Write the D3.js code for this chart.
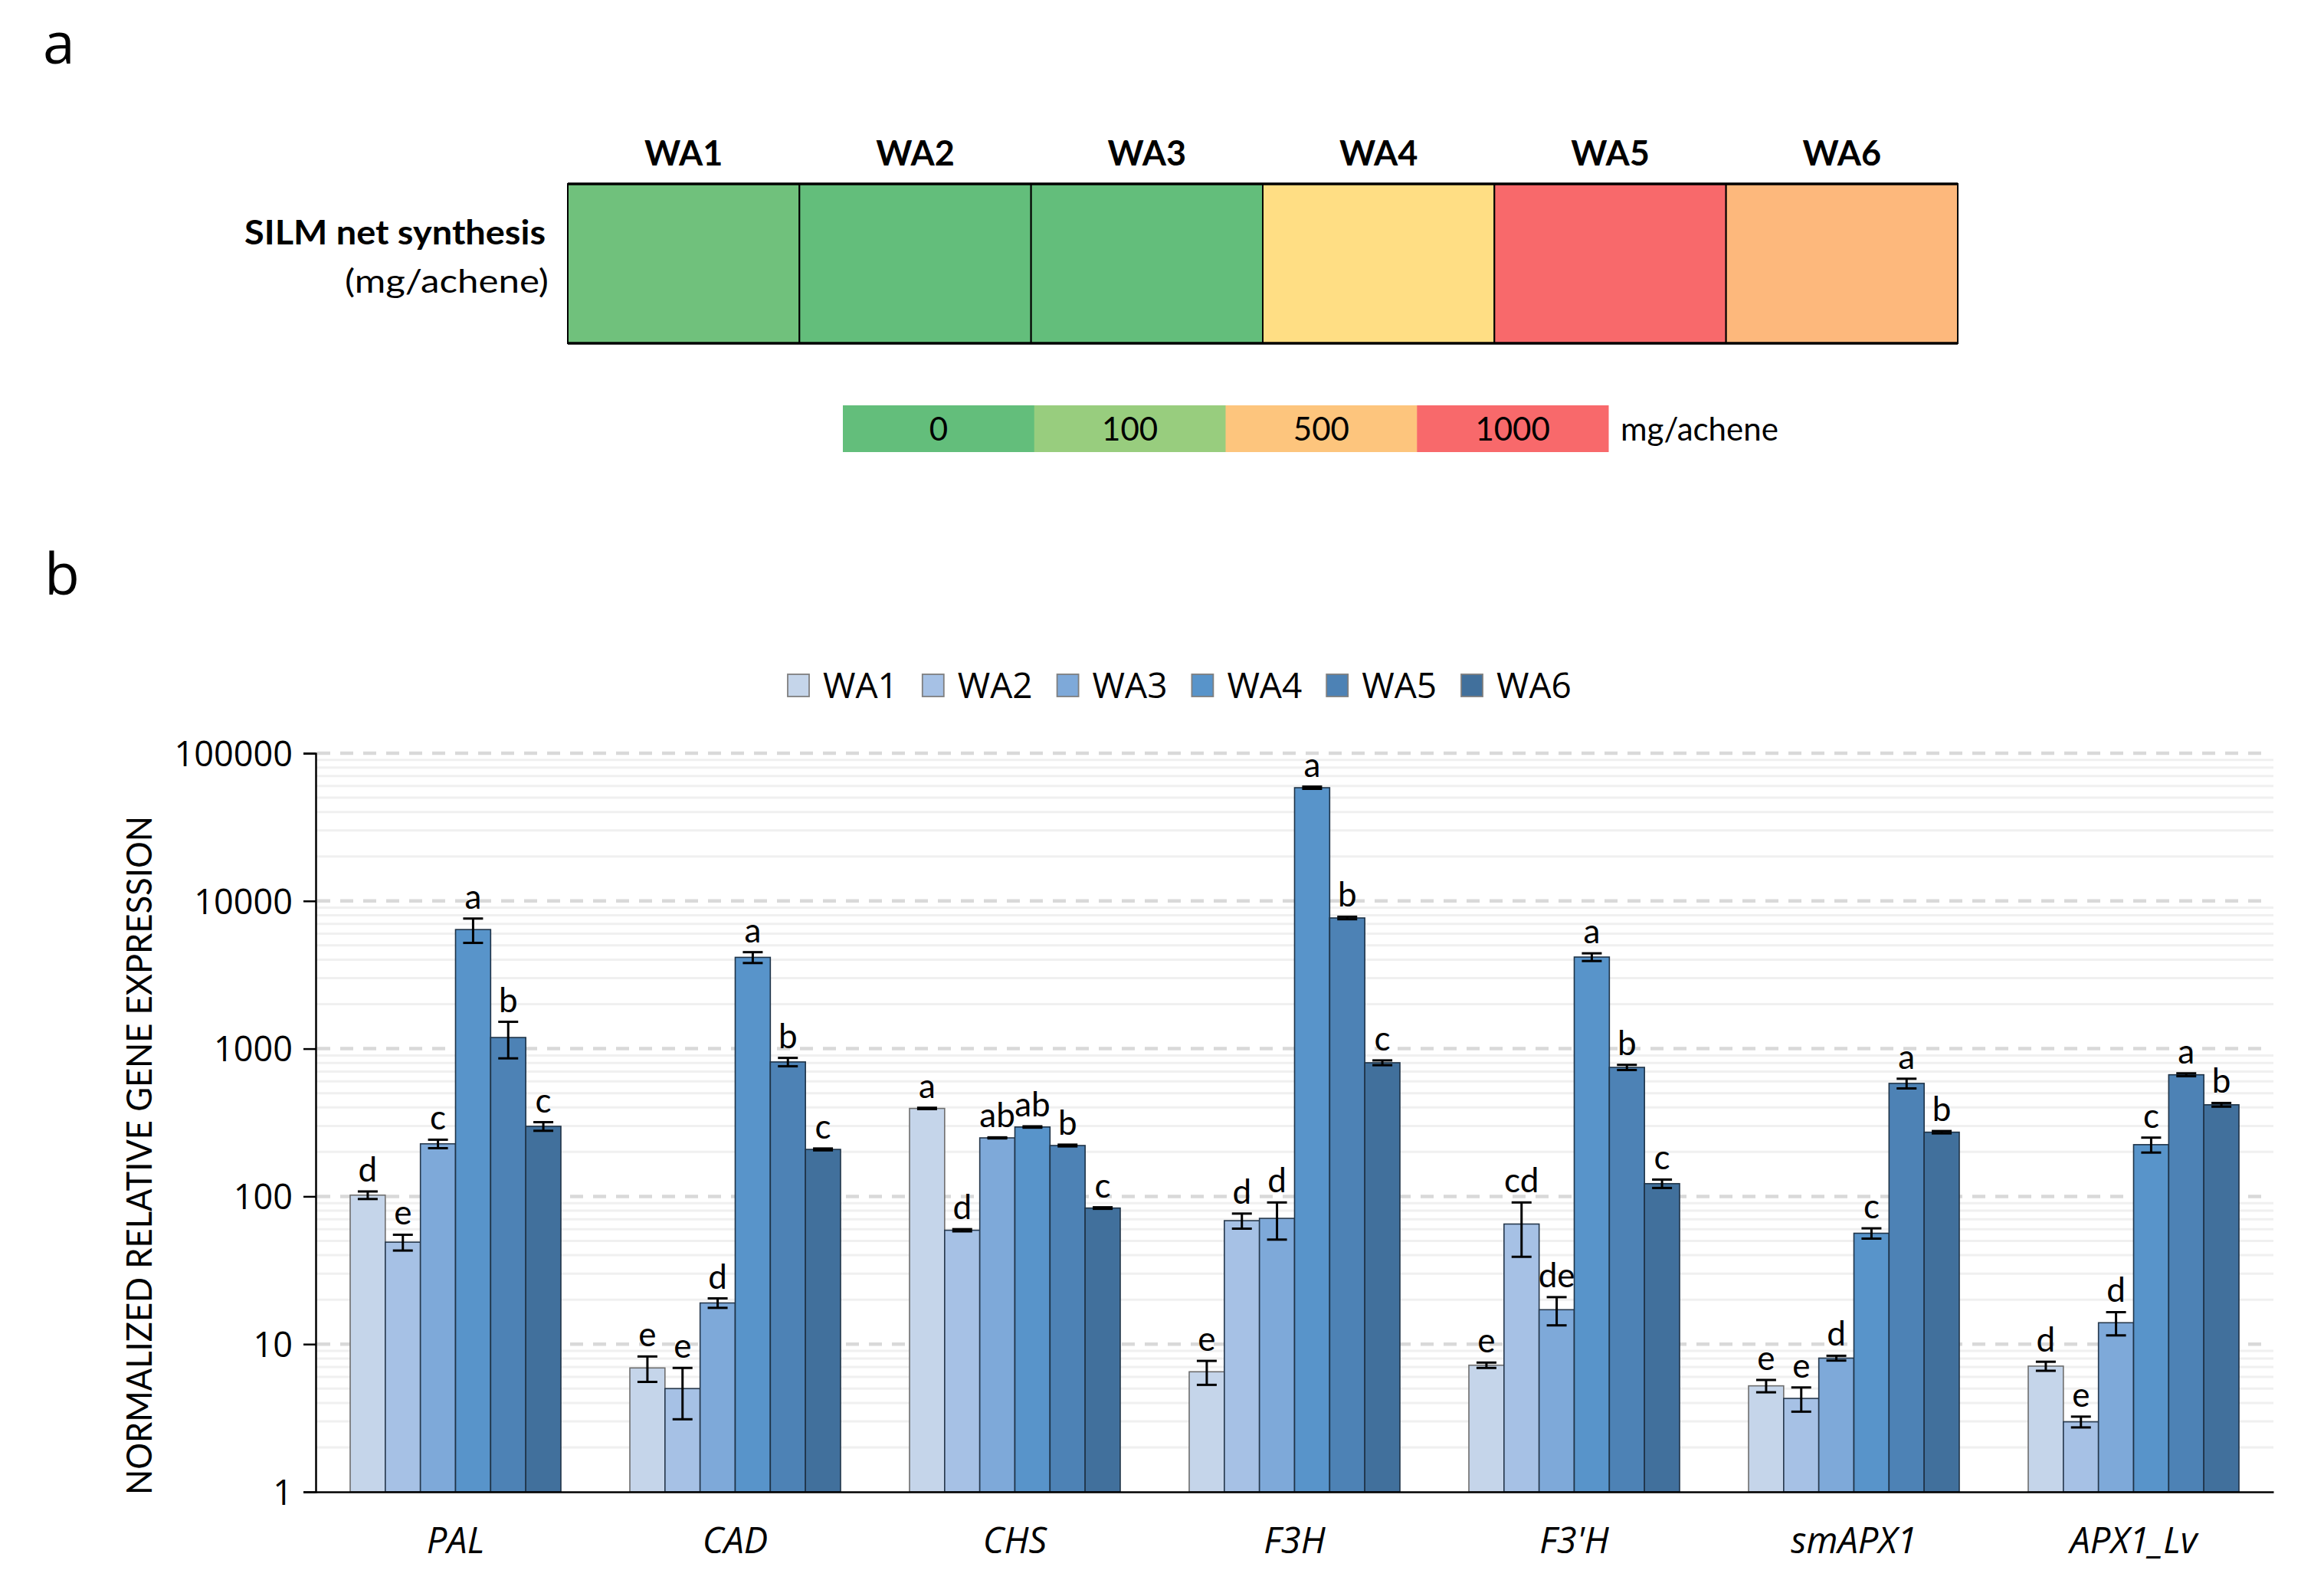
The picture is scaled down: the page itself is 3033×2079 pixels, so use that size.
<!DOCTYPE html>
<html>
<head>
<meta charset="utf-8">
<script src="https://cdn.jsdelivr.net/npm/d3@7"></script>
<style>
  html, body { margin: 0; padding: 0; background: #fff; }
  svg { display: block; }
</style>
</head>
<body>
<svg id="chart" width="3033" height="2079"></svg>
<script>
// ---------------- DATA ----------------
const samples = ["WA1", "WA2", "WA3", "WA4", "WA5", "WA6"];
const silmColors = ["#70C17C", "#63BE7B", "#63BE7B", "#FFDE84", "#F8696B", "#FDB87C"];
const scaleLabels = ["0", "100", "500", "1000"];
const scaleColors = ["#63BE7B", "#98CD7E", "#FDC57D", "#F8696B"];

const genes = ["PAL", "CAD", "CHS", "F3H", "F3'H", "smAPX1", "APX1_Lv"];
const WA1 = [102, 6.9, 394, 6.5, 7.2, 5.22, 7.1];
const WA2 = [49, 5.0, 59, 68.5, 65, 4.29, 2.98];
const WA3 = [227, 19.0, 249, 71, 17.1, 8.04, 13.96];
const WA4 = [6400, 4150, 295, 58400, 4170, 56.3, 224];
const WA5 = [1190, 813, 221, 7670, 747, 582, 666];
const WA6 = [298, 208, 83.4, 803, 122, 272, 417];
const WA1_err = [6, 1.35, 4, 1.2, 0.3, 0.5, 0.5];
const WA2_err = [6, 1.9, 1, 8, 26, 0.8, 0.25];
const WA3_err = [15, 1.4, 2, 20, 3.7, 0.3, 2.5];
const WA4_err = [1200, 350, 3, 1000, 250, 4.5, 26];
const WA5_err = [330, 53, 3, 150, 30, 44, 15];
const WA6_err = [20, 3, 1, 30, 8, 5, 12];
const WA1_letters = ["d", "e", "a", "e", "e", "e", "d"];
const WA2_letters = ["e", "e", "d", "d", "cd", "e", "e"];
const WA3_letters = ["c", "d", "ab", "d", "de", "d", "d"];
const WA4_letters = ["a", "a", "ab", "a", "a", "c", "c"];
const WA5_letters = ["b", "b", "b", "b", "b", "a", "a"];
const WA6_letters = ["c", "c", "c", "c", "c", "b", "b"];
const yTicks = [1, 10, 100, 1000, 10000, 100000];
const barColors = ["#C5D5EA", "#A6C1E5", "#7EA9D9", "#5894CA", "#4D82B5", "#41709C"];
const barStrokes = ["#6E6E6E", "#26384C", "#26384C", "#1E3347", "#1E3347", "#1E3347"];

(function () {
const values = [WA1, WA2, WA3, WA4, WA5, WA6];
const errs = [WA1_err, WA2_err, WA3_err, WA4_err, WA5_err, WA6_err];
const letters = [WA1_letters, WA2_letters, WA3_letters, WA4_letters, WA5_letters, WA6_letters];

const records = [];
genes.forEach((g, gi) => samples.forEach((s, si) => {
  records.push({gene: g, sample: s, si, v: values[si][gi], e: errs[si][gi], l: letters[si][gi]});
}));

const svg = d3.select("#chart");
svg.append("rect").attr("width", 3033).attr("height", 2079).attr("fill", "#fff");

const calib = "Lato, 'Liberation Sans', sans-serif";
const segoe = "'Open Sans', 'Noto Sans', sans-serif";

// ---------------- PANEL LABELS ----------------
svg.append("text").attr("x", 56).attr("y", 83).text("a")
  .attr("font-family", segoe).attr("font-size", 75).attr("fill", "#000");
svg.append("text").attr("x", 58).attr("y", 776).text("b")
  .attr("font-family", segoe).attr("font-size", 75).attr("fill", "#000");

// ---------------- PANEL A ----------------
const xa = d3.scaleBand().domain(samples).range([741, 2555]);
const ga = svg.append("g");
ga.selectAll("rect.cell").data(samples).join("rect").attr("class", "cell")
  .attr("x", d => xa(d)).attr("y", 240).attr("width", xa.bandwidth()).attr("height", 208)
  .attr("fill", (d, i) => silmColors[i]).attr("stroke", "#000").attr("stroke-width", 2);
ga.append("line").attr("x1", 741).attr("x2", 2555).attr("y1", 240).attr("y2", 240)
  .attr("stroke", "#000").attr("stroke-width", 3.5);
ga.append("line").attr("x1", 741).attr("x2", 2555).attr("y1", 448).attr("y2", 448)
  .attr("stroke", "#000").attr("stroke-width", 3.5);
ga.selectAll("text.hdr").data(samples).join("text").attr("class", "hdr")
  .attr("x", d => xa(d) + xa.bandwidth() / 2).attr("y", 216)
  .attr("text-anchor", "middle").attr("font-family", calib).attr("font-weight", 700)
  .attr("font-size", 45).text(d => d);
ga.append("text").attr("x", 712).attr("y", 319).attr("text-anchor", "end")
  .attr("font-family", calib).attr("font-weight", 700).attr("font-size", 43)
  .attr("textLength", 393).attr("lengthAdjust", "spacingAndGlyphs")
  .text("SILM net synthesis");
ga.append("text").attr("x", 716).attr("y", 382).attr("text-anchor", "end")
  .attr("font-family", calib).attr("font-size", 43)
  .attr("textLength", 266).attr("lengthAdjust", "spacingAndGlyphs")
  .text("(mg/achene)");

const xs = d3.scaleBand().domain(scaleLabels).range([1100, 2099]);
ga.selectAll("rect.sc").data(scaleLabels).join("rect").attr("class", "sc")
  .attr("x", d => xs(d)).attr("y", 529).attr("width", xs.bandwidth() + 0.5).attr("height", 61)
  .attr("fill", (d, i) => scaleColors[i]);
ga.selectAll("text.sc").data(scaleLabels).join("text").attr("class", "sc")
  .attr("x", d => xs(d) + xs.bandwidth() / 2).attr("y", 575).attr("text-anchor", "middle")
  .attr("font-family", calib).attr("font-size", 42).text(d => d);
ga.append("text").attr("x", 2115).attr("y", 575).attr("font-family", calib)
  .attr("font-size", 42).text("mg/achene");

// ---------------- PANEL B ----------------
const pLeft = 412, pRight = 2967, pTop = 983, pBottom = 1947;
const x = d3.scaleBand().domain(genes).range([pLeft, pRight]);
const xi = d3.scaleBand().domain(samples).range([45, x.bandwidth() - 45]);
const y = d3.scaleLog().domain([1, 100000]).range([pBottom, pTop]);

const gb = svg.append("g");
// minor gridlines
const minor = [];
for (let p = 0; p < 5; p++) for (let m = 2; m <= 9; m++) minor.push(m * Math.pow(10, p));
gb.selectAll("line.minor").data(minor).join("line").attr("class", "minor")
  .attr("x1", pLeft).attr("x2", pRight).attr("y1", d => y(d)).attr("y2", d => y(d))
  .attr("stroke", "#F0F0F0").attr("stroke-width", 3);
// major gridlines (dashed)
gb.selectAll("line.major").data(yTicks.slice(1)).join("line").attr("class", "major")
  .attr("x1", pLeft + 2).attr("x2", pRight - 12).attr("y1", d => y(d)).attr("y2", d => y(d))
  .attr("stroke", "#D9D9D9").attr("stroke-width", 4.5).attr("stroke-dasharray", "17,13");

// bars
const groups = gb.selectAll("g.gene").data(genes).join("g").attr("class", "gene")
  .attr("transform", d => `translate(${x(d)},0)`);
groups.selectAll("rect").data(g => records.filter(r => r.gene === g)).join("rect")
  .attr("x", d => xi(d.sample)).attr("width", xi.bandwidth())
  .attr("y", d => y(d.v)).attr("height", d => y(1) - y(d.v))
  .attr("fill", d => barColors[d.si]).attr("stroke", d => barStrokes[d.si]).attr("stroke-width", 1.6);

// error bars
const cap = 13;
const eb = groups.selectAll("g.err").data(g => records.filter(r => r.gene === g)).join("g").attr("class", "err")
  .attr("transform", d => `translate(${xi(d.sample) + xi.bandwidth() / 2},0)`);
eb.append("line").attr("x1", 0).attr("x2", 0).attr("y1", d => y(d.v + d.e)).attr("y2", d => y(d.v - d.e))
  .attr("stroke", "#000").attr("stroke-width", 3);
eb.append("line").attr("x1", -cap).attr("x2", cap).attr("y1", d => y(d.v + d.e)).attr("y2", d => y(d.v + d.e))
  .attr("stroke", "#000").attr("stroke-width", 3);
eb.append("line").attr("x1", -cap).attr("x2", cap).attr("y1", d => y(d.v - d.e)).attr("y2", d => y(d.v - d.e))
  .attr("stroke", "#000").attr("stroke-width", 3);
eb.append("text").attr("x", 0).attr("y", d => y(d.v + d.e) - 13).attr("text-anchor", "middle")
  .attr("font-family", calib).attr("font-size", 44).attr("fill", "#000").text(d => d.l);

// y axis
const yAxis = d3.axisLeft(y).tickValues(yTicks).tickFormat(d3.format("d")).tickSize(16).tickPadding(14);
const ya = svg.append("g").attr("transform", `translate(${pLeft},0)`).call(yAxis);
ya.select(".domain").attr("stroke", "#000").attr("stroke-width", 2.5);
ya.selectAll(".tick line").attr("stroke", "#000").attr("stroke-width", 2.5);
ya.selectAll(".tick text").attr("font-family", segoe).attr("font-size", 45).attr("fill", "#000").attr("dy", "0.36em");

// x axis
const xAxis = d3.axisBottom(x).tickSize(0).tickPadding(0);
const xaG = svg.append("g").attr("transform", `translate(0,${pBottom})`).call(xAxis);
xaG.select(".domain").attr("stroke", "#000").attr("stroke-width", 2.5);
xaG.selectAll(".tick text").attr("y", 80).attr("dy", 0).attr("font-family", segoe)
  .attr("font-style", "italic").attr("font-size", 47).attr("fill", "#000");

// y title
svg.append("text").attr("transform", `translate(198,${(1065 + 1951) / 2}) rotate(-90)`)
  .attr("text-anchor", "middle").attr("font-family", calib).attr("font-size", 47)
  .attr("textLength", 886).attr("lengthAdjust", "spacingAndGlyphs")
  .text("NORMALIZED RELATIVE GENE EXPRESSION");

// legend
const legX = d3.scaleBand().domain(samples).range([1028, 1028 + 175.8 * 6]);
const lg = svg.append("g");
lg.selectAll("rect").data(samples).join("rect")
  .attr("x", d => legX(d)).attr("y", 880).attr("width", 28).attr("height", 29)
  .attr("fill", (d, i) => barColors[i]).attr("stroke", "#7F7F7F").attr("stroke-width", 1.8);
lg.selectAll("text").data(samples).join("text")
  .attr("x", d => legX(d) + 46).attr("y", 911).attr("font-family", segoe).attr("font-size", 46)
  .attr("fill", "#000").text(d => d);
})();
</script>
</body>
</html>
